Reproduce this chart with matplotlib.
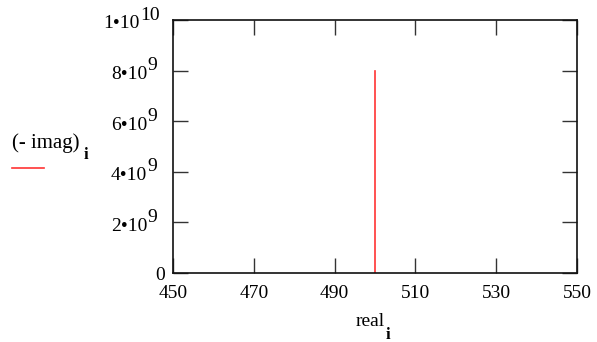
import matplotlib
matplotlib.use("Agg")
import matplotlib.pyplot as plt
from matplotlib.transforms import offset_copy

plt.rcParams['font.family'] = ['Liberation Serif', 'DejaVu Serif']

real = [500, 500]
neg_imag = [0, 8e9]
xticks = [450, 470, 490, 510, 530, 550]
yticks = [0, 2e9, 4e9, 6e9, 8e9, 1e10]
ybase = ['0', '2\u202210', '4\u202210', '6\u202210', '8\u202210', '1\u202210']
yexp = ['', '9', '9', '9', '9', '10']

fig = plt.figure(figsize=(5.97, 3.42), dpi=100)
ax = fig.add_axes([173/597, 69/342, 404/597, 253/342])
ax.plot(real, neg_imag, color='#ff3333', lw=1.2)
ax.set_xlim(450, 550)
ax.set_ylim(0, 1e10)
ax.set_xticks(xticks)
ax.set_xticklabels([str(t) for t in xticks], fontsize=14)
ax.set_yticks(yticks)
ax.set_yticklabels([])
ax.tick_params(direction='in', length=11, width=1, top=True, right=True,
               color='#333333')
ax.tick_params(axis='x', pad=9)
for s in ax.spines.values():
    s.set_linewidth(1.2)
    s.set_color('#111111')

trans = ax.get_yaxis_transform()
for y, b, e in zip(yticks, ybase, yexp):
    if e:
        dx = -26 if len(e) == 1 else -33
        ax.text(0, y, e, transform=offset_copy(trans, fig, x=dx, y=5, units='dots'),
                fontsize=14, ha='left', va='center')
        ax.text(0, y, b, transform=offset_copy(trans, fig, x=dx, y=-4, units='dots'),
                fontsize=14, ha='right', va='center')
    else:
        ax.text(0, y, b, transform=offset_copy(trans, fig, x=-8, y=-2, units='dots'),
                fontsize=14, ha='right', va='center')

# x label
fig.text(370/597, 1 - 322/342, 'real', fontsize=14, ha='center', va='center')
fig.text(386/597, 1 - 335/342, 'i', fontsize=12, ha='left', va='center', fontweight='bold')

# legend
fig.text(12/597, 1 - 143/342, '(- imag)', fontsize=15, va='center', ha='left')
fig.text(84/597, 1 - 155/342, 'i', fontsize=12, va='center', ha='left', fontweight='bold')
fig.add_artist(plt.Line2D([12/597, 44/597], [1 - 168/342, 1 - 168/342],
                          color='#ff3333', lw=1.2))
fig.savefig('out.png', dpi=100)
